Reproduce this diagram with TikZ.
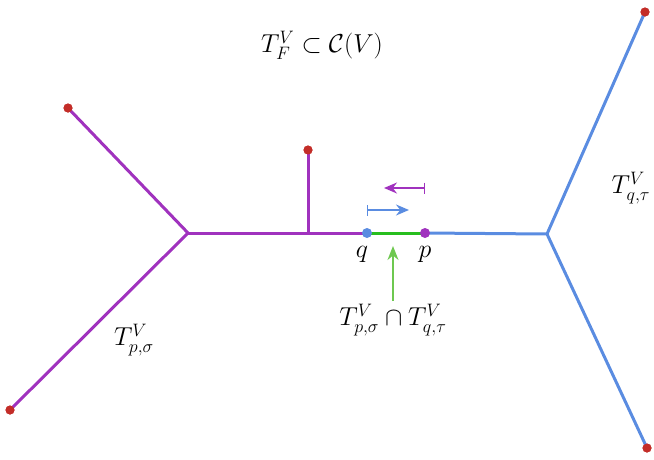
\documentclass[tikz,border=0pt]{standalone}
\usepackage{graphicx}
\usetikzlibrary{arrows.meta}
\definecolor{pur}{RGB}{160,50,190}
\definecolor{blu}{RGB}{90,140,225}
\definecolor{grn}{RGB}{40,190,30}
\definecolor{lgrn}{RGB}{110,200,80}
\definecolor{leafred}{RGB}{195,45,40}
\newcommand{\labmath}[1]{\scalebox{1.25}{\huge$#1$}}
\begin{document}
\begin{tikzpicture}[x=1pt,y=-1pt,
  edge/.style={line width=3pt},
  leafdot/.style={circle,fill=leafred,inner sep=0pt,minimum size=9pt},
  vdot/.style={circle,inner sep=0pt,minimum size=10pt},
  lab/.style={inner sep=1pt}]
\useasboundingbox (0,0) rectangle (654,459);
% coordinates
\coordinate (jl) at (188,233);
\coordinate (jr) at (547,234);
\coordinate (b) at (308,233);
\node[leafdot] (l1) at (68,108) {};
\node[leafdot] (l2) at (10,410) {};
\node[leafdot] (l3) at (308,150) {};
\node[leafdot] (l4) at (645,12) {};
\node[leafdot] (l5) at (647,448) {};
\coordinate (qc) at (367,233);
\coordinate (pc) at (425,233);
% edges
\draw[edge,pur] (l1.center) -- (jl) -- (l2.center);
\draw[edge,pur] (jl) -- (b) -- (qc);
\draw[edge,pur] (b) -- (l3.center);
\draw[edge,blu] (pc) -- (jr) -- (l4.center);
\draw[edge,blu] (jr) -- (l5.center);
\draw[edge,grn] (qc) -- (pc);
% redraw leaves on top
\foreach \n in {l1,l2,l3,l4,l5} \node[leafdot] at (\n) {};
\node[vdot,fill=blu] (q) at (qc) {};
\node[vdot,fill=pur] (p) at (pc) {};
% labels
\node[lab] (ql) at (362,254) {\labmath{q}};
\node[lab] (pl) at (425,254) {\labmath{p}};
\node[lab] (top) at (322,45) {\labmath{T_F^V\subset\mathcal{C}(V)}};
\node[lab] (tq) at (631,188) {\labmath{T_{q,\tau}^V}};
\node[lab] (tp) at (134,340) {\labmath{T_{p,\sigma}^V}};
\node[lab] (inter) at (393,320) {\labmath{T_{p,\sigma}^V\cap T_{q,\tau}^V}};
% arrows
\coordinate (pa1) at (425,188);
\coordinate (pa2) at (384,188);
\draw[pur,line width=1.4pt,{Bar[width=11pt]}-{Stealth[length=13pt,width=11pt]}] (pa1) -- (pa2);
\coordinate (ba1) at (367,210);
\coordinate (ba2) at (409,210);
\draw[blu,line width=1.4pt,{Bar[width=11pt]}-{Stealth[length=13pt,width=11pt]}] (ba1) -- (ba2);
\coordinate (ga) at (393,301);
\draw[lgrn,line width=1.6pt,-{Stealth[length=14pt,width=11pt]}] (ga) -- (393,246);
\end{tikzpicture}
\end{document}
